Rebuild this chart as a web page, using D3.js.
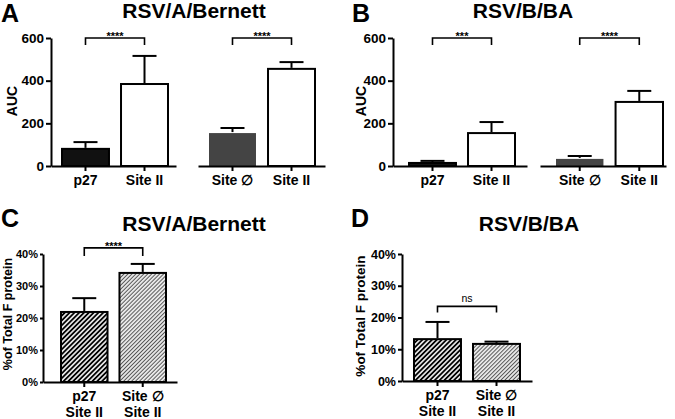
<!DOCTYPE html>
<html><head><meta charset="utf-8">
<script src="https://cdn.jsdelivr.net/npm/d3@7"></script>
<style>
body{margin:0;background:#fff}
svg{display:block}
text{font-family:"Liberation Sans",Arial,Helvetica,sans-serif}
</style>
</head><body>
<svg id="chart" width="675" height="419"></svg>
<script>
// ---------------- data ----------------
const panelLetters = ["A", "B", "C", "D"];
const panelTitles = ["RSV/A/Bernett", "RSV/B/BA", "RSV/A/Bernett", "RSV/B/BA"];
const aucTicks = [0, 200, 400, 600];
const pctTicks = [0, 10, 20, 30, 40];
const aucCatsLeft = ["p27", "Site II"];
const aucCatsRight = ["Site \u2205", "Site II"];
const pctCats = ["p27|Site II", "Site \u2205|Site II"];

const bernettAucLeft = [85, 389];
const bernettAucLeftErr = [27, 127];
const bernettAucRight = [159, 460];
const bernettAucRightErr = [19, 27];
const baAucLeft = [19, 159];
const baAucLeftErr = [5, 47];
const baAucRight = [38, 305];
const baAucRightErr = [9, 47];

const bernettPct = [22.2, 34.4];
const bernettPctErr = [4.0, 2.5];
const baPct = [13.5, 12.0];
const baPctErr = [5.1, 0.4];

const sigBernettAuc = ["****", "****"];
const sigBaAuc = ["***", "****"];
const sigBernettPct = "****";
const sigBaPct = "ns";

// ---------------- drawing ----------------
const svg = d3.select("#chart");
const defs = svg.append("defs");
function hatch(id, color, period, width) {
  const p = defs.append("pattern").attr("id", id)
    .attr("patternUnits", "userSpaceOnUse")
    .attr("width", period).attr("height", period)
    .attr("patternTransform", "rotate(45)");
  p.append("rect").attr("width", period).attr("height", period).attr("fill", "#fff");
  p.append("line").attr("x1", period / 2).attr("x2", period / 2)
    .attr("y1", 0).attr("y2", period)
    .attr("stroke", color).attr("stroke-width", width);
}
hatch("hatchBlack", "#000", 3.4, 1.9);
hatch("hatchGrey", "#555", 2.8, 1.2);

const FONT = '"Liberation Sans",Arial,Helvetica,sans-serif';

function yAxis(g, y, ticks, fmt, x0, fs, tsize) {
  const ax = g.append("g").attr("transform", `translate(${x0},0)`)
    .call(d3.axisLeft(y).tickValues(ticks).tickSize(tsize).tickSizeOuter(0).tickPadding(2).tickFormat(fmt));
  ax.selectAll("path,line").attr("stroke", "#000").attr("stroke-width", 2);
  ax.selectAll("text").attr("font-size", fs).attr("font-weight", "bold").attr("fill", "#000").attr("font-family", FONT);
}

function segment(g, cfg) {
  const { a0, a1, b0, b1, cats, vals, errs, fills, y } = cfg;
  const pi = 0.17;
  const L = a1 - a0, S = b1 - b0;
  const step = S / (2 - pi);
  const po = (L / step - (2 - pi)) / 2;
  const align = (b0 - a0) / (L - S);
  const x = d3.scaleBand().domain(cats).range([a0, a1])
    .paddingInner(pi).paddingOuter(po).align(align);
  const base = y.range()[0];
  // bars
  g.selectAll(null).data(cats).enter().append("rect")
    .attr("x", d => x(d) + 1).attr("width", x.bandwidth() - 2)
    .attr("y", (d, i) => y(vals[i]) + 1)
    .attr("height", (d, i) => Math.max(0, base - y(vals[i]) - 1))
    .attr("fill", (d, i) => fills[i])
    .attr("stroke", "#000").attr("stroke-width", (d, i) => fills[i] === "#444" ? 0 : 2);
  // error bars
  const cap = 24;
  const eg = g.selectAll(null).data(cats).enter().append("g");
  eg.append("line")
    .attr("x1", d => x(d) + x.bandwidth() / 2).attr("x2", d => x(d) + x.bandwidth() / 2)
    .attr("y1", (d, i) => y(vals[i])).attr("y2", (d, i) => y(vals[i] + errs[i]))
    .attr("stroke", "#000").attr("stroke-width", 2);
  eg.append("line")
    .attr("x1", d => x(d) + x.bandwidth() / 2 - cap / 2).attr("x2", d => x(d) + x.bandwidth() / 2 + cap / 2)
    .attr("y1", (d, i) => y(vals[i] + errs[i])).attr("y2", (d, i) => y(vals[i] + errs[i]))
    .attr("stroke", "#000").attr("stroke-width", 2);
  // x axis
  const ax = g.append("g").attr("transform", `translate(0,${base})`)
    .call(d3.axisBottom(x).tickSize(5).tickSizeOuter(0));
  ax.selectAll("path,line").attr("stroke", "#000").attr("stroke-width", 2);
  ax.selectAll("text").each(function (d) {
    const t = d3.select(this);
    t.text(null).attr("dy", null).attr("y", 19)
      .attr("font-size", 14).attr("font-weight", "bold").attr("fill", "#000").attr("font-family", FONT);
    d.split("|").forEach((s, k) => {
      t.append("tspan").attr("x", 0).attr("dy", k === 0 ? 0 : 15.5).text(s);
    });
  });
  return x;
}

function bracket(g, x, cats, y, level, leg, label, isNs) {
  const xa = x(cats[0]) + x.bandwidth() / 2, xb = x(cats[1]) + x.bandwidth() / 2;
  const yt = y(level);
  g.append("path")
    .attr("d", `M${xa},${yt + leg}V${yt}H${xb}V${yt + leg}`)
    .attr("fill", "none").attr("stroke", "#000").attr("stroke-width", 1.6);
  g.append("text").attr("x", (xa + xb) / 2).attr("y", isNs ? yt - 4 : yt + 2)
    .attr("text-anchor", "middle")
    .attr("font-size", isNs ? 10.5 : 11).attr("font-weight", isNs ? "normal" : "bold")
    .attr("fill", "#000").text(label);
}

function header(letter, lx, ly, title, tx, ty) {
  svg.append("text").attr("x", lx).attr("y", ly).attr("font-size", 25).attr("font-weight", "bold").text(letter);
  svg.append("text").attr("x", tx).attr("y", ty).attr("text-anchor", "middle")
    .attr("font-size", 21).attr("font-weight", "bold").text(title);
}

function yLabel(text, x, y, size) {
  svg.append("text").attr("transform", `translate(${x},${y}) rotate(-90)`)
    .attr("text-anchor", "middle").attr("font-size", size).attr("font-weight", "bold").text(text);
}

// Panel A
{
  const g = svg.append("g");
  const y = d3.scaleLinear().domain([0, 600]).range([166, 38]);
  header(panelLetters[0], 1, 22, panelTitles[0], 194, 18);
  yLabel("AUC", 17, 101, 14);
  const x1 = segment(g, { a0: 51, a1: 176, b0: 61, b1: 169, cats: aucCatsLeft, vals: bernettAucLeft, errs: bernettAucLeftErr, fills: ["#111", "#fff"], y });
  const x2 = segment(g, { a0: 198, a1: 325, b0: 208, b1: 316, cats: aucCatsRight, vals: bernettAucRight, errs: bernettAucRightErr, fills: ["#444", "#fff"], y });
  yAxis(g, y, aucTicks, d => d, 51, 13.5, 5);
  bracket(g, x1, aucCatsLeft, y, 600, 7, sigBernettAuc[0]);
  bracket(g, x2, aucCatsRight, y, 600, 7, sigBernettAuc[1]);
}
// Panel B
{
  const g = svg.append("g");
  const y = d3.scaleLinear().domain([0, 600]).range([166, 38]);
  header(panelLetters[1], 352, 22, panelTitles[1], 523, 18);
  yLabel("AUC", 366, 101, 14);
  const x1 = segment(g, { a0: 393, a1: 527, b0: 408, b1: 516, cats: aucCatsLeft, vals: baAucLeft, errs: baAucLeftErr, fills: ["#111", "#fff"], y });
  const x2 = segment(g, { a0: 540, a1: 666, b0: 555, b1: 664, cats: aucCatsRight, vals: baAucRight, errs: baAucRightErr, fills: ["#444", "#fff"], y });
  yAxis(g, y, aucTicks, d => d, 393, 13.5, 5);
  bracket(g, x1, aucCatsLeft, y, 600, 7, sigBaAuc[0]);
  bracket(g, x2, aucCatsRight, y, 600, 7, sigBaAuc[1]);
}
// Panel C
{
  const g = svg.append("g");
  const y = d3.scaleLinear().domain([0, 40]).range([382, 254]);
  header(panelLetters[2], 1, 227, panelTitles[2], 194, 231);
  yLabel("%of Total F protein", 12, 314, 12.5);
  const x = segment(g, { a0: 43, a1: 177, b0: 60, b1: 167, cats: pctCats, vals: bernettPct, errs: bernettPctErr, fills: ["url(#hatchBlack)", "url(#hatchGrey)"], y });
  yAxis(g, y, pctTicks, d => d + "%", 43, 11, 3);
  bracket(g, x, pctCats, y, 41.9, 8, sigBernettPct);
}
// Panel D
{
  const g = svg.append("g");
  const y = d3.scaleLinear().domain([0, 40]).range([381, 254]);
  header(panelLetters[3], 351, 227, panelTitles[3], 529, 231);
  yLabel("%of Total F protein", 365, 316, 13.5);
  const x = segment(g, { a0: 402, a1: 532, b0: 413, b1: 521, cats: pctCats, vals: baPct, errs: baPctErr, fills: ["url(#hatchBlack)", "url(#hatchGrey)"], y });
  yAxis(g, y, pctTicks, d => d + "%", 402, 12.5, 4);
  bracket(g, x, pctCats, y, 23.5, 6, sigBaPct, true);
}
</script>
</body></html>
